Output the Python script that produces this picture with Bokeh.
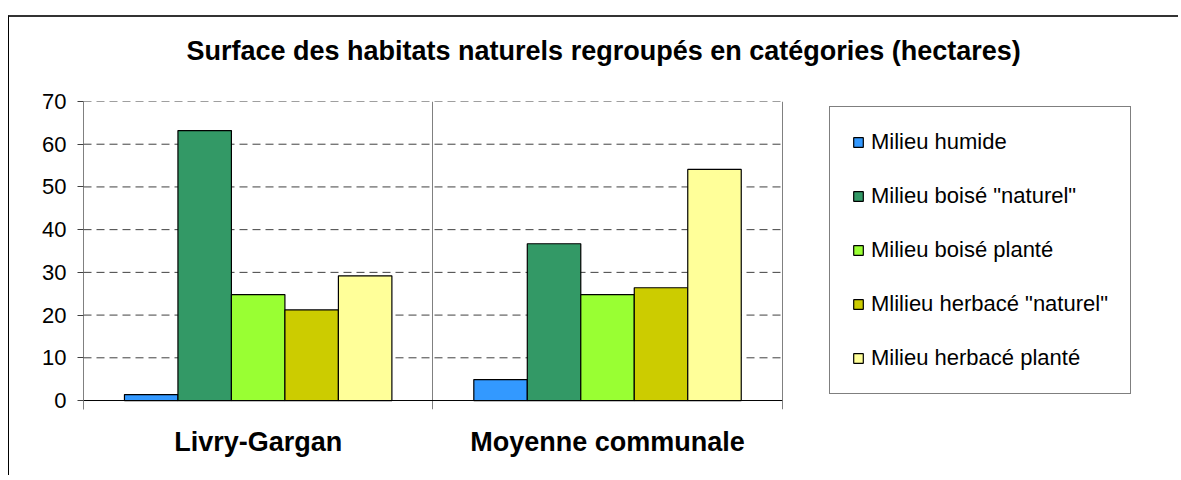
from bokeh.plotting import figure
from bokeh.models import (ColumnDataSource, Range1d, FixedTicker, Legend, LegendItem, Title)
from bokeh.transform import dodge
from bokeh.embed import file_html
from bokeh.resources import INLINE

# ---- data ----
groups = ["Livry-Gargan", "Moyenne communale"]
series = ["Milieu humide", 'Milieu boisé "naturel"', "Milieu boisé planté",
          'Mlilieu herbacé "naturel"', "Milieu herbacé planté"]
humide = [1.4, 4.9]
boise_naturel = [63.2, 36.7]
boise_plante = [24.8, 24.8]
herbace_naturel = [21.2, 26.4]
herbace_plante = [29.2, 54.1]
y_ticks = [0, 10, 20, 30, 40, 50, 60, 70]
title_text = "Surface des habitats naturels regroupés en catégories (hectares)"

colors = ["#3399FF", "#339966", "#99FF33", "#CCCC00", "#FFFF99"]
cols = ["humide", "boise_naturel", "boise_plante", "herbace_naturel", "herbace_plante"]

n = len(groups)
centers = [i + 0.5 for i in range(n)]          # category centres on the category axis
bounds = list(range(n + 1))                     # category boundaries

src = ColumnDataSource(dict(groups=groups, xpos=centers, humide=humide,
                            boise_naturel=boise_naturel, boise_plante=boise_plante,
                            herbace_naturel=herbace_naturel, herbace_plante=herbace_plante))

FONT = "Liberation Sans"

p = figure(x_range=Range1d(0, 3.08), y_range=Range1d(-2.1, 70),
           width=1170, height=460, output_backend="svg", toolbar_location=None,
           min_border_left=74, min_border_top=84, min_border_bottom=68, min_border_right=20,
           outline_line_color=None, background_fill_color="white", border_fill_color="white")
p.styles = {"margin-left": "8px", "margin-top": "15px",
            "border-top": "2px solid #333333", "border-left": "1px solid #000000"}
p.title = None

# spacer between plot area and title (first added = nearest the plot area)
p.add_layout(Title(text="\u200b", text_font_size="12px", standoff=10,
                   text_color="white"), "above")
# title
p.add_layout(Title(text=title_text, align="left", offset=103, standoff=20,
                   text_font=FONT, text_font_style="bold", text_font_size="27px",
                   text_color="black"), "above")

# y axis
p.yaxis.ticker = FixedTicker(ticks=y_ticks)
p.yaxis.axis_line_color = "#808080"
p.yaxis.major_tick_line_color = "#404040"
p.yaxis.major_tick_in = 0
p.yaxis.major_tick_out = 6
p.yaxis.minor_tick_line_color = None
p.yaxis.major_label_standoff = 11
p.yaxis.major_label_text_font = FONT
p.yaxis.major_label_text_font_size = "22px"
p.yaxis.major_label_text_color = "black"

# x axis (category labels)
p.xaxis.ticker = FixedTicker(ticks=centers)
p.xaxis.major_label_overrides = {c: g for c, g in zip(centers, groups)}
p.xaxis.axis_line_color = None
p.xaxis.major_tick_line_color = None
p.xaxis.major_tick_in = 0
p.xaxis.major_tick_out = 0
p.xaxis.minor_tick_line_color = None
p.xaxis.major_label_standoff = 17
p.xaxis.major_label_text_font = FONT
p.xaxis.major_label_text_font_style = "bold"
p.xaxis.major_label_text_font_size = "27px"
p.xaxis.major_label_text_color = "black"

# grids
p.ygrid.grid_line_color = None
p.xgrid.ticker = FixedTicker(ticks=bounds)
p.xgrid.grid_line_color = "#808080"
p.xgrid.grid_line_width = 1

# horizontal dashed value lines over the category area, and the base line
grid_y = y_ticks[1:]
p.segment(x0=[bounds[0]] * len(grid_y), x1=[bounds[-1]] * len(grid_y), y0=grid_y, y1=grid_y,
          line_color="#404040", line_dash="8 5", line_width=1, level="underlay")
p.segment(x0=[bounds[0]], x1=[bounds[-1]], y0=[y_ticks[0]], y1=[y_ticks[0]],
          line_color="black", line_width=1)

# bars
w = 0.1531
offsets = [-2 * w, -w, 0, w, 2 * w]
items = []
for name, col, c, off in zip(series, cols, colors, offsets):
    r = p.vbar(x=dodge("xpos", off), top=col, bottom=0, width=w,
               source=src, fill_color=c, line_color="black", line_width=1.2)
    items.append(LegendItem(label=name, renderers=[r]))

legend = Legend(items=items, location=(746, 15), orientation="vertical",
                border_line_color="black", border_line_width=1,
                background_fill_color="white", background_fill_alpha=1,
                padding=22, margin=0,
                spacing=28, label_height=21, glyph_height=12, glyph_width=12,
                label_standoff=7, label_text_font=FONT, label_text_font_size="22px",
                label_text_color="black")
p.add_layout(legend)

open("out.html", "w").write(file_html(p, INLINE))
